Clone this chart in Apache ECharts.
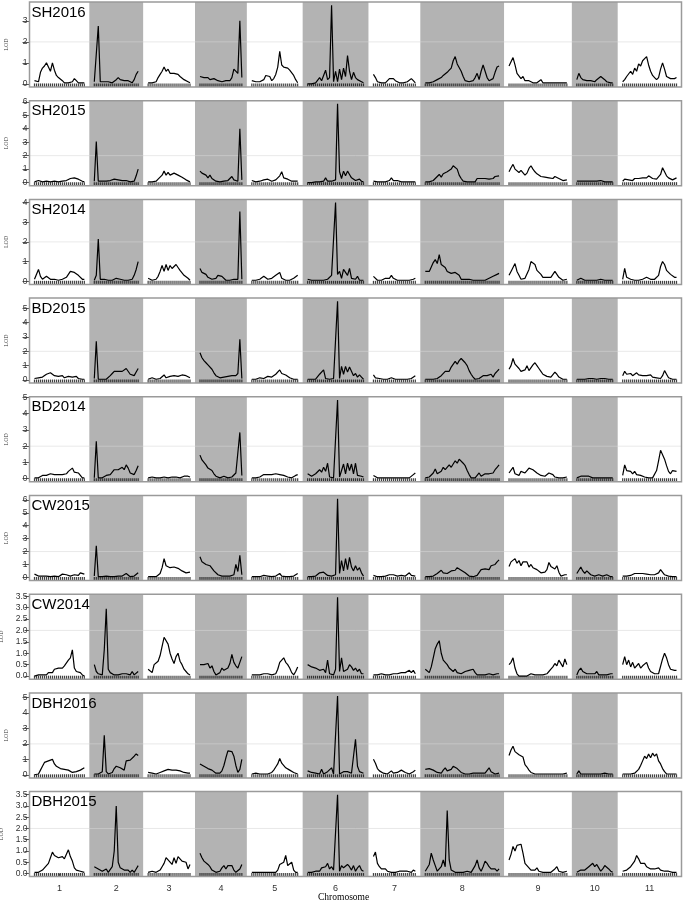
<!DOCTYPE html>
<html><head><meta charset="utf-8">
<script src="https://cdn.jsdelivr.net/npm/echarts@6/dist/echarts.min.js"></script>
<style>html,body{margin:0;padding:0;background:#fff}#c{width:685px;height:902px}</style>
</head><body><div id="c"></div><script>
// ---------- DATA ----------
const chromosomes = ['1','2','3','4','5','6','7','8','9','10','11'];
const chrLengths = [50,44,42,42,46,56,42,74,58,36,54]; // cM
const chrGap = 10;
const traits = ['SH2016','SH2015','SH2014','BD2015','BD2014','CW2015','CW2014','DBH2016','DBH2015'];
const threshold = 2;

const ticksSH2016 = ['0','1','2','3'];
const ticksSH2015 = ['0','1','2','3','4','5','6'];
const ticksSH2014 = ['0','1','2','3','4'];
const ticksBD2015 = ['0','1','2','3','4','5'];
const ticksBD2014 = ['0','1','2','3','4','5'];
const ticksCW2015 = ['0','1','2','3','4','5','6'];
const ticksCW2014 = ['0.0','0.5','1.0','1.5','2.0','2.5','3.0','3.5'];
const ticksDBH2016 = ['0','1','2','3','4','5'];
const ticksDBH2015 = ['0.0','0.5','1.0','1.5','2.0','2.5','3.0','3.5'];

const SH2016 = [
[0.15,0.1,0.1,0.55,0.75,0.85,1.0,0.8,0.6,1.0,0.65,0.4,0.3,0.25,0.15,0.05,0.1,0.05,0.05,0.1,0.25,0.15,0.05,0.05,0.05,0.05],
[0.1,0.1,2.75,0.1,0.05,0.1,0.05,0.1,0.05,0.05,0.1,0.2,0.3,0.2,0.25,0.15,0.2,0.15,0.1,0.05,0.2,0.45,0.6],
[0.05,0.05,0.05,0.05,0.1,0.3,0.45,0.6,0.8,0.6,0.7,0.5,0.45,0.5,0.45,0.45,0.35,0.3,0.2,0.15,0.1,0.05],
[0.35,0.3,0.3,0.25,0.3,0.2,0.2,0.25,0.2,0.15,0.1,0.1,0.1,0.15,0.2,0.15,0.3,0.7,0.7,0.5,3.0,0.3],
[0.15,0.1,0.1,0.05,0.1,0.05,0.2,0.4,0.45,0.35,0.15,0.25,0.45,0.8,1.55,0.9,0.8,0.85,0.75,0.65,0.6,0.4,0.2,0.05],
[0,0,0,0,0.05,0,0.3,0.15,0.4,0.65,0.2,0.3,3.75,0.1,0.6,0.1,0.7,0.2,0.75,0.35,1.35,0.6,0.2,0.55,0.3,0.2,0.15,0.1,0.05],
[0.45,0.3,0.1,0.05,0.05,0.1,0.05,0.1,0.25,0.2,0.25,0.15,0.1,0.05,0.05,0.05,0.1,0.1,0.15,0.25,0.15,0.05],
[0.05,0.05,0.05,0.05,0.1,0.1,0.2,0.25,0.3,0.4,0.45,0.55,0.65,0.75,1.1,1.3,0.95,0.9,0.6,0.35,0.15,0.1,0.1,0.1,0.15,0.3,0.5,0.2,0.6,0.9,0.6,0.3,0.15,0.1,0.25,0.55,0.8,0.85],
[0.85,1.05,1.25,0.9,0.5,0.45,0.25,0.35,0.15,0.1,0.15,0.15,0.05,0.05,0.05,0.05,0.2,0.05,0.05,0.05,0.05,0.05,0.1,0.05,0.05,0.05,0.05,0.05,0.05,0.05],
[0.2,0.5,0.3,0.2,0.15,0.15,0.15,0.15,0.15,0.1,0.2,0.25,0.35,0.3,0.2,0.1,0.05,0.05,0.05],
[0.1,0.2,0.35,0.3,0.6,0.45,0.75,0.6,0.95,0.85,1.1,1.2,1.3,0.9,0.6,0.4,0.3,0.2,0.3,0.7,1.0,0.7,0.35,0.3,0.25,0.3,0.25,0.3]
];
const SH2015 = [
[0.05,0.1,0.15,0.05,0.05,0.05,0.1,0.1,0.05,0.05,0.1,0.1,0.05,0.1,0.1,0.1,0.15,0.2,0.3,0.25,0.35,0.3,0.25,0.15,0.1,0.05],
[0.1,3.05,0.1,0.05,0.1,0.05,0.1,0.1,0.15,0.15,0.25,0.2,0.2,0.2,0.15,0.25,0.15,0.1,0.05,0.05,0.1,0.5,1.0],
[0.05,0.05,0.05,0.05,0.1,0.25,0.4,0.55,0.85,0.55,0.75,0.55,0.65,0.7,0.65,0.55,0.45,0.4,0.3,0.2,0.1,0.05],
[0.85,0.7,0.6,0.55,0.35,0.55,0.3,0.2,0.1,0.1,0.05,0.1,0.1,0.15,0.15,0.2,0.45,0.2,0.15,0.1,4.0,0.2],
[0.15,0.1,0.05,0.1,0.1,0.15,0.2,0.15,0.25,0.2,0.1,0.1,0.2,0.3,0.5,0.8,0.35,0.4,0.25,0.15,0.1,0.1,0.1,0.1],
[0,0,0,0.05,0.05,0.05,0.05,0.15,0.1,0.35,0.1,0.1,0.1,0.05,0.2,5.85,0.8,0.3,0.85,0.5,0.85,0.6,0.35,0.3,0.15,0.2,0.25,0.1,0.05],
[0.1,0.15,0.05,0.05,0.05,0.05,0.05,0.1,0.15,0.35,0.15,0.1,0.15,0.1,0.05,0.05,0.05,0.05,0.05,0.05,0.05,0.05],
[0.05,0.05,0.05,0.1,0.15,0.3,0.45,0.6,0.4,0.65,0.55,0.8,0.7,1.0,1.25,1.3,1.0,0.55,0.3,0.1,0.05,0.05,0.05,0.05,0.05,0.05,0.3,0.2,0.3,0.25,0.3,0.35,0.25,0.35,0.3,0.45,0.5,0.5],
[0.8,1.1,1.35,1.0,1.1,0.75,0.9,0.95,0.55,0.7,1.05,1.25,1.0,0.8,0.65,0.55,0.45,0.35,0.4,0.5,0.35,0.25,0.3,0.45,0.45,0.3,0.2,0.15,0.2,0.2],
[0.1,0.05,0.1,0.05,0.1,0.05,0.1,0.05,0.1,0.1,0.1,0.15,0.15,0.1,0.05,0.05,0.05,0.05,0.05],
[0.1,0.25,0.15,0.2,0.2,0.15,0.3,0.25,0.3,0.3,0.35,0.4,0.35,0.5,0.4,0.3,0.25,0.25,0.3,0.6,1.1,0.8,0.5,0.35,0.35,0.2,0.25,0.35]
];
const SH2014 = [
[0.1,0.15,0.6,0.25,0.1,0.15,0.25,0.2,0.1,0.15,0.1,0.05,0.05,0.05,0.1,0.1,0.2,0.35,0.5,0.55,0.45,0.4,0.3,0.25,0.1,0.1],
[0.05,0.3,2.15,0.1,0.05,0.1,0.05,0.05,0.1,0.05,0.1,0.15,0.1,0.1,0.05,0.05,0.05,0.05,0.05,0.1,0.3,0.6,1.0],
[0.15,0.1,0.05,0.05,0.1,0.25,0.5,0.8,0.5,0.85,0.55,0.8,0.65,0.75,0.85,0.7,0.55,0.45,0.3,0.2,0.15,0.05],
[0.65,0.45,0.45,0.35,0.2,0.15,0.1,0.1,0.15,0.3,0.3,0.25,0.15,0.05,0.05,0.05,0.15,0.1,0.05,0.1,3.55,0.1],
[0.05,0.05,0.05,0.05,0.1,0.2,0.25,0.2,0.1,0.1,0.15,0.2,0.3,0.25,0.45,0.15,0.1,0.05,0.05,0.05,0.1,0.15,0.2,0.3],
[0.1,0.05,0.05,0.05,0.05,0.05,0.05,0.1,0.05,0.05,0.1,0.05,0.3,0.4,4.0,0.35,0.5,0.15,0.6,0.65,0.3,0.65,0.15,0.1,0.1,0.25,0.05,0.05,0.05],
[0.25,0.15,0.05,0.05,0.05,0.1,0.15,0.1,0.15,0.3,0.15,0.05,0.05,0.05,0.05,0.05,0.05,0.05,0.05,0.05,0.1,0.15],
[0.5,0.45,0.5,0.6,0.95,1.1,0.9,1.35,0.85,0.75,0.7,0.5,0.55,0.4,0.45,0.45,0.35,0.3,0.1,0.05,0.1,0.05,0.1,0.1,0.05,0.05,0.05,0.05,0.05,0.05,0.05,0.1,0.15,0.2,0.25,0.3,0.35,0.4],
[0.3,0.5,0.7,0.9,0.5,0.3,0.1,0.2,0.15,0.1,0.6,1.0,0.95,0.85,0.55,0.55,0.35,0.2,0.15,0.2,0.3,0.2,0.3,0.5,0.4,0.2,0.1,0.05,0.05,0.1],
[0.05,0.1,0.15,0.05,0.05,0.05,0.05,0.05,0.05,0.05,0.05,0.05,0.1,0.05,0.05,0.05,0.05,0.05,0.05],
[0.1,0.65,0.2,0.25,0.1,0.05,0.05,0.05,0.05,0.05,0.1,0.1,0.2,0.25,0.1,0.1,0.1,0.1,0.3,0.75,1.0,0.85,0.55,0.5,0.35,0.3,0.2,0.2]
];
const BD2015 = [
[0.1,0.05,0.15,0.25,0.2,0.3,0.4,0.35,0.5,0.4,0.3,0.3,0.25,0.25,0.3,0.15,0.1,0.25,0.35,0.2,0.3,0.25,0.1,0.05,0.05,0.05],
[0.1,2.7,0.05,0.05,0.05,0.1,0.05,0.15,0.3,0.45,0.6,0.55,0.6,0.55,0.6,0.5,0.8,0.75,0.4,0.35,0.3,0.55,0.8],
[0.05,0.1,0.15,0.05,0.05,0.1,0.1,0.2,0.35,0.15,0.2,0.25,0.2,0.3,0.35,0.25,0.25,0.35,0.4,0.3,0.2,0.15],
[1.9,1.55,1.35,1.2,1.05,1.0,0.75,0.5,0.3,0.2,0.15,0.1,0.2,0.15,0.25,0.2,0.3,0.25,0.3,0.45,2.85,0.1],
[0.05,0.05,0.05,0.1,0.15,0.1,0.1,0.2,0.25,0.2,0.2,0.3,0.4,0.5,0.7,0.45,0.4,0.35,0.25,0.15,0.1,0.05,0.05,0.05],
[0.05,0.05,0.05,0.05,0.05,0.15,0.4,0.35,0.7,0.1,0.05,0.05,0.1,0.1,0.1,5.5,0.1,0.95,0.4,0.95,0.55,0.9,0.85,0.3,0.45,0.2,0.35,0.2,0.05],
[0.35,0.15,0.1,0.1,0.05,0.05,0.1,0.05,0.05,0.15,0.05,0.05,0.05,0.05,0.05,0.05,0.05,0.05,0.05,0.1,0.2,0.3],
[0.05,0.05,0.05,0.05,0.05,0.1,0.1,0.2,0.3,0.4,0.6,0.55,0.6,0.9,1.0,1.3,1.1,1.35,1.5,1.4,1.2,1.0,0.65,0.4,0.2,0.05,0.05,0.1,0.05,0.3,0.4,0.3,0.35,0.4,0.2,0.45,0.6,0.75],
[0.75,1.0,1.5,1.1,1.2,0.8,0.6,0.55,0.7,1.0,0.65,0.6,1.05,1.2,1.0,0.8,0.6,0.4,0.3,0.25,0.2,0.2,0.3,0.55,0.4,0.2,0.1,0.05,0.05,0.05],
[0.05,0.1,0.05,0.1,0.05,0.05,0.1,0.05,0.1,0.05,0.05,0.1,0.1,0.15,0.1,0.05,0.05,0.05,0.05],
[0.3,0.6,0.4,0.35,0.45,0.3,0.4,0.5,0.35,0.3,0.3,0.4,0.3,0.3,0.35,0.2,0.15,0.15,0.1,0.1,0.3,0.65,0.4,0.15,0.05,0.05,0.05,0.05]
];
const BD2014 = [
[0.05,0.05,0.05,0.1,0.2,0.25,0.2,0.25,0.3,0.25,0.25,0.2,0.25,0.3,0.25,0.2,0.3,0.45,0.55,0.65,0.4,0.45,0.35,0.2,0.05,0.05],
[0.05,2.3,0.05,0.05,0.05,0.15,0.2,0.1,0.25,0.4,0.55,0.65,0.55,0.6,0.7,0.55,0.85,0.65,0.35,0.3,0.25,0.5,0.8],
[0.05,0.05,0.1,0.15,0.05,0.05,0.05,0.05,0.1,0.05,0.05,0.05,0.1,0.15,0.1,0.05,0.05,0.1,0.15,0.2,0.15,0.1],
[1.45,1.15,1.15,0.85,0.65,0.7,0.5,0.3,0.15,0.05,0.05,0.1,0.15,0.1,0.05,0.15,0.1,0.2,0.35,0.3,2.85,0.2],
[0.05,0.05,0.05,0.05,0.1,0.2,0.25,0.3,0.25,0.2,0.25,0.25,0.3,0.35,0.25,0.25,0.2,0.15,0.1,0.1,0.05,0.1,0.2,0.25],
[0.3,0.2,0.15,0.1,0.3,0.3,0.55,0.4,0.7,0.45,0.95,0.1,0.05,0.05,0.1,4.85,0.1,0.5,0.9,0.3,0.95,0.5,0.9,0.3,0.95,0.2,0.1,0.15,0.1],
[0.2,0.1,0.05,0.05,0.05,0.05,0.05,0.1,0.05,0.05,0.05,0.05,0.05,0.05,0.05,0.05,0.05,0.05,0.05,0.1,0.25,0.35],
[0.05,0.05,0.1,0.2,0.35,0.6,0.3,0.35,0.45,0.7,0.55,0.65,0.85,0.7,0.9,1.1,0.95,1.2,1.1,0.95,0.8,0.5,0.25,0.05,0.05,0.05,0.05,0.35,0.15,0.1,0.3,0.4,0.3,0.4,0.35,0.55,0.7,0.85],
[0.35,0.3,0.7,0.3,0.35,0.2,0.45,0.35,0.35,0.5,0.65,0.6,0.55,0.45,0.35,0.3,0.2,0.1,0.15,0.25,0.35,0.45,0.25,0.1,0.05,0.05,0.05,0.05,0.1,0.1],
[0.05,0.1,0.15,0.2,0.15,0.1,0.15,0.1,0.05,0.1,0.05,0.05,0.05,0.05,0.05,0.05,0.05,0.05,0.05],
[0.2,0.85,0.5,0.4,0.45,0.3,0.45,0.25,0.25,0.2,0.15,0.1,0.1,0.05,0.05,0.05,0.1,0.5,1.1,1.75,1.7,1.2,0.8,0.45,0.3,0.5,0.4,0.45]
];
const CW2015 = [
[0.25,0.15,0.1,0.1,0.1,0.05,0.1,0.05,0.05,0.05,0.1,0.05,0.05,0.05,0.25,0.4,0.2,0.15,0.1,0.15,0.2,0.1,0.15,0.35,0.3,0.25],
[0.1,2.45,0.05,0.05,0.05,0.05,0.1,0.05,0.05,0.1,0.05,0.1,0.1,0.15,0.1,0.2,0.3,0.15,0.05,0.05,0.1,0.2,0.35],
[0.05,0.05,0.05,0.05,0.05,0.05,0.3,0.75,1.45,0.9,1.0,0.75,0.85,0.8,0.9,0.7,0.6,0.5,0.45,0.35,0.3,0.4],
[1.6,1.2,1.1,1.0,0.95,0.9,0.95,0.5,0.35,0.2,0.1,0.1,0.15,0.1,0.1,0.1,0.05,0.2,1.0,0.45,1.7,0.2],
[0.05,0.05,0.05,0.05,0.05,0.1,0.15,0.15,0.1,0.05,0.05,0.05,0.1,0.15,0.3,0.1,0.05,0.05,0.05,0.05,0.05,0.1,0.2,0.3],
[0.05,0.05,0.05,0.1,0.1,0.2,0.35,0.2,0.4,0.25,0.15,0.15,0.1,0.15,0.2,6.1,0.3,1.3,0.5,1.45,0.6,1.55,0.8,0.5,0.9,0.55,0.75,0.35,0.1],
[0.15,0.1,0.05,0.05,0.05,0.05,0.1,0.1,0.2,0.3,0.2,0.15,0.1,0.15,0.15,0.25,0.1,0.15,0.35,0.15,0.1,0.1],
[0.05,0.05,0.05,0.05,0.1,0.15,0.3,0.35,0.55,0.35,0.4,0.3,0.45,0.5,0.6,0.55,0.75,0.65,0.55,0.4,0.35,0.2,0.1,0.05,0.05,0.05,0.15,0.3,0.6,0.45,0.65,0.7,0.6,0.9,0.75,1.0,1.2,1.35],
[0.85,1.2,1.1,1.45,1.1,1.3,0.9,1.2,1.05,1.2,0.8,1.0,0.75,0.85,0.6,0.5,0.35,0.4,0.4,0.6,1.15,0.85,0.95,0.65,0.9,0.4,0.1,0.15,0.2,0.2],
[0.3,0.55,0.8,0.5,0.3,0.5,0.35,0.2,0.15,0.1,0.15,0.2,0.15,0.1,0.15,0.2,0.05,0.05,0.05],
[0.1,0.2,0.1,0.25,0.15,0.25,0.3,0.25,0.3,0.2,0.3,0.2,0.25,0.2,0.2,0.15,0.2,0.15,0.35,0.6,0.5,0.2,0.1,0.1,0.05,0.05,0.05,0.05]
];
const CW2014 = [
[0.0,0.05,0.05,0.1,0.05,0.05,0.05,0.15,0.2,0.15,0.3,0.35,0.35,0.4,0.35,0.45,0.45,0.7,0.8,1.15,0.35,0.2,0.25,0.15,0.05,0.0],
[0.5,0.2,0.1,0.05,0.05,1.15,2.95,0.3,0.15,0.1,0.05,0.1,0.05,0.05,0.1,0.15,0.1,0.05,0.05,0.2,0.05,0.1,0.2],
[0.3,0.25,0.15,0.5,0.55,0.65,0.9,1.3,1.7,1.75,1.4,1.0,0.75,0.55,0.85,1.0,0.65,0.5,0.3,0.2,0.1,0.05],
[0.5,0.55,0.5,0.45,0.55,0.35,0.45,0.2,0.05,0.05,0.15,0.35,0.25,0.2,0.35,0.55,0.95,0.6,0.45,0.35,0.6,0.85],
[0.05,0.05,0.05,0.05,0.05,0.05,0.1,0.15,0.1,0.05,0.05,0.05,0.1,0.3,0.6,0.7,0.8,0.6,0.5,0.35,0.15,0.05,0.2,0.4],
[0.5,0.45,0.4,0.35,0.35,0.3,0.25,0.2,0.3,0.15,0.7,0.1,0.1,0.05,0.3,3.45,0.2,0.8,0.2,0.15,0.3,0.5,0.4,0.25,0.35,0.2,0.3,0.1,0.1],
[0.05,0.05,0.05,0.1,0.1,0.05,0.05,0.1,0.05,0.05,0.1,0.1,0.1,0.15,0.15,0.2,0.15,0.2,0.25,0.15,0.25,0.1],
[0.3,0.25,0.15,0.4,0.8,1.2,1.4,1.55,1.0,0.7,0.7,0.5,0.35,0.3,0.2,0.3,0.15,0.15,0.1,0.15,0.2,0.15,0.25,0.25,0.3,0.15,0.05,0.05,0.05,0.05,0.05,0.05,0.1,0.05,0.05,0.1,0.1,0.1],
[0.5,0.6,0.8,0.35,0.1,0,0,0,0,0,0.05,0.1,0.1,0.05,0.05,0.05,0.05,0.05,0.1,0.1,0.2,0.3,0.4,0.55,0.45,0.7,0.75,0.4,0.75,0.5],
[0.05,0.25,0.35,0.2,0.2,0.1,0.15,0.1,0.05,0.1,0.2,0.05,0.05,0.05,0.05,0.05,0.05,0.1,0.1],
[0.5,0.85,0.5,0.7,0.4,0.6,0.35,0.4,0.55,0.35,0.45,0.5,0.6,0.35,0.2,0.15,0.1,0.15,0.1,0.15,0.75,1.0,0.8,0.5,0.3,0.25,0.25,0.25]
];
const DBH2016 = [
[0,0,0.05,0.3,0.55,0.8,0.75,0.9,0.85,1.0,0.7,0.55,0.5,0.4,0.45,0.35,0.4,0.3,0.2,0.15,0.2,0.2,0.25,0.3,0.35,0.45],
[0.05,0.05,0.05,0.1,0.2,2.55,0.2,0.05,0.1,0.15,0.4,0.55,0.5,0.45,0.35,0.3,0.9,0.95,0.95,1.0,1.2,1.35,1.25],
[0.15,0.15,0.1,0.05,0.05,0.1,0.15,0.15,0.25,0.3,0.35,0.25,0.3,0.35,0.3,0.25,0.25,0.2,0.15,0.15,0.1,0.1],
[0.7,0.65,0.55,0.5,0.4,0.35,0.3,0.2,0.1,0.05,0.1,0.25,0.6,1.1,1.55,1.45,1.5,1.2,0.6,0.15,0.35,1.0],
[0.05,0.05,0.1,0.05,0.05,0.1,0.05,0.05,0.05,0.05,0.15,0.3,0.5,0.7,1.05,0.75,0.8,0.45,0.45,0.3,0.3,0.15,0.1,0.05],
[0.25,0.2,0.15,0.15,0.1,0.1,0.05,0.35,0.05,0.15,0.2,0.1,0.45,0.05,0.1,5.1,0.05,0.1,0.2,0.1,0.2,0.15,0.1,0.2,2.3,0.55,0.2,0.3,0.1],
[1.0,0.75,0.4,0.25,0.15,0.1,0.1,0.05,0.1,0.25,0.1,0.2,0.15,0.1,0.3,0.3,0.15,0.05,0.05,0.1,0.2,0.3],
[0.35,0.35,0.4,0.5,0.3,0.2,0.15,0.05,0.1,0.3,0.45,0.25,0.2,0.35,0.55,0.6,0.4,0.3,0.15,0.1,0.05,0.05,0.05,0.05,0.1,0.05,0.1,0.2,0.1,0.05,0.1,0.2,0.45,0.2,0.1,0.05,0.05,0.1],
[1.25,1.6,1.85,1.5,1.6,1.3,1.2,1.15,0.65,0.5,0.3,0.15,0.1,0.05,0.05,0.05,0.05,0.05,0.1,0.05,0.05,0.05,0.05,0.05,0.05,0.05,0.05,0.05,0.05,0.1],
[0.05,0.25,0.05,0.05,0.05,0.05,0.05,0.05,0.05,0.05,0.05,0.05,0.05,0.05,0.1,0.05,0.05,0.05,0.05],
[0.05,0.05,0.05,0.05,0.05,0.05,0.1,0.2,0.35,0.6,0.9,1.2,1.05,1.35,1.1,1.4,1.2,1.35,0.9,0.7,0.4,0.2,0.05,0.05,0.05,0.05,0.05,0.05]
];
const DBH2015 = [
[0.05,0.05,0.05,0.1,0.15,0.25,0.3,0.45,0.7,0.95,0.8,0.75,0.7,0.7,0.75,0.65,0.6,1.05,0.75,0.55,0.25,0.15,0.15,0.1,0.05,0.05],
[0.3,0.3,0.2,0.15,0.1,0.1,0.2,0.05,0.1,0.3,1.0,3.0,0.5,0.25,0.3,0.15,0.1,0.15,0.05,0.15,0.05,0.2,0.35],
[0.05,0.1,0.1,0.15,0.05,0.1,0.15,0.3,0.45,0.7,0.6,0.5,0.4,0.7,0.45,0.75,0.65,0.55,0.5,0.5,0.2,0.4],
[0.9,0.7,0.55,0.5,0.4,0.3,0.15,0.1,0.05,0.05,0.1,0.25,0.35,0.2,0.35,0.3,0.35,0.15,0.05,0.05,0.2,0.4],
[0.05,0.05,0.05,0.05,0.05,0.05,0.05,0.05,0.05,0.05,0.05,0.05,0.05,0.15,0.4,0.35,0.5,0.8,0.35,0.4,0.5,0.15,0.05,0.05],
[0.05,0.05,0.05,0.05,0.1,0.1,0.1,0.25,0.2,0.3,0.45,0.2,0.3,0.15,0.1,3.5,0.1,0.35,0.25,0.2,0.4,0.3,0.15,0.35,0.1,0.25,0.35,0.15,0.1],
[0.75,0.95,0.45,0.3,0.2,0.15,0.2,0.1,0.1,0.05,0.05,0.05,0.05,0.1,0.05,0.1,0.05,0.1,0.1,0.05,0.15,0.1],
[0.1,0.15,0.4,0.9,0.6,0.35,0.1,0.05,0.3,0.6,0.3,2.8,0.6,0.15,0.15,0.05,0.05,0.05,0.05,0.05,0.05,0.1,0.05,0.05,0.1,0.35,0.6,0.25,0.1,0.3,0.55,0.45,0.3,0.2,0.15,0.2,0.1,0.2],
[0.6,0.85,1.2,1.0,1.25,1.2,1.3,0.9,0.45,0.35,0.3,0.15,0.1,0.15,0.25,0.1,0.05,0.05,0.1,0.05,0.05,0.05,0.05,0.2,0.3,0.1,0.05,0.05,0.05,0.1],
[0.05,0.05,0.15,0.1,0.15,0.2,0.3,0.25,0.45,0.3,0.4,0.25,0.1,0.2,0.35,0.4,0.2,0.1,0.05],
[0.1,0.15,0.15,0.2,0.3,0.25,0.55,0.8,0.65,0.45,0.4,0.45,0.3,0.3,0.2,0.25,0.2,0.2,0.25,0.15,0.1,0.1,0.05,0.1,0.05,0.05,0.05,0.05]
];

const traitData = {SH2016,SH2015,SH2014,BD2015,BD2014,CW2015,CW2014,DBH2016,DBH2015};
const traitTicks = {SH2016:ticksSH2016,SH2015:ticksSH2015,SH2014:ticksSH2014,BD2015:ticksBD2015,BD2014:ticksBD2014,CW2015:ticksCW2015,CW2014:ticksCW2014,DBH2016:ticksDBH2016,DBH2015:ticksDBH2015};

// ---------- LAYOUT ----------
const plotLeft = 29.5, plotWidth = 652, panelH = 85, panelStep = 98.7, firstTop = 2;
const chrStarts = [];
let acc = 0;
chrLengths.forEach(L => { chrStarts.push(acc); acc += L + chrGap; });
const totalLen = acc;
const chrCenters = chrStarts.map((s, k) => s + (chrLengths[k] + chrGap) / 2);
function markerPos(k, n) {
  const s = chrStarts[k] + chrGap / 2, L = chrLengths[k];
  const out = [];
  for (let i = 0; i < n; i++) out.push(s + i * L / (n - 1));
  return out;
}
function nearestLabel(vals, labs, v) {
  let b = 0, d = 1e9;
  vals.forEach((c, k) => { if (Math.abs(c - v) < d) { d = Math.abs(c - v); b = k; } });
  return labs[b];
}

const grids = [], xAxes = [], yAxes = [], series = [], graphics = [];
traits.forEach((t, p) => {
  const data = traitData[t];
  let M = 0;
  data.forEach(a => a.forEach(v => { if (v > M) M = v; }));
  const ymin = -0.04 * M, ymax = 1.04 * M;
  const top = firstTop + p * panelStep;
  const labels = traitTicks[t];
  const tickVals = labels.map(Number);
  const isDec = labels[0].indexOf('.') >= 0;
  const last = p === traits.length - 1;
  grids.push({left: plotLeft, width: plotWidth, top: top, height: panelH, containLabel: false, outerBoundsMode: 'none'});
  xAxes.push({
    gridIndex: p, type: 'value', min: 0, max: totalLen,
    splitLine: {show: false}, axisLine: {show: false},
    axisTick: last ? {show: true, customValues: chrCenters, length: 3, lineStyle: {color: '#555', width: 1}} : {show: false},
    axisLabel: last ? {show: true, customValues: chrCenters, margin: 7, fontSize: 9, color: '#333', fontFamily: 'Liberation Sans, Arial, sans-serif',
      formatter: v => nearestLabel(chrCenters, chromosomes, v)} : {show: false}
  });
  yAxes.push({
    gridIndex: p, type: 'value', min: ymin, max: ymax, position: 'left',
    splitLine: {show: false}, axisLine: {show: false, onZero: false},
    axisTick: {show: true, inside: false, customValues: tickVals, length: isDec ? 5 : 7, lineStyle: {color: '#555', width: 1}},
    axisLabel: {show: true, inside: false, align: 'right', customValues: tickVals, margin: 2, fontSize: 8.5, color: '#333', fontFamily: 'Liberation Sans, Arial, sans-serif',
      formatter: v => nearestLabel(tickVals, labels, v)},
    name: 'LOD', nameLocation: 'middle', nameGap: 20.5, nameRotate: 90,
    nameTextStyle: {fontFamily: 'Liberation Serif, Times New Roman, serif', fontSize: 6, color: '#333'}
  });
  const shade = [];
  chrStarts.forEach((s, k) => { if (k % 2 === 1) shade.push([s, s + chrLengths[k] + chrGap]); });
  series.push({
    type: 'custom', xAxisIndex: p, yAxisIndex: p, z: 1, silent: true, clip: true,
    data: shade,
    renderItem: (params, api) => {
      const a = api.coord([api.value(0), ymax]);
      const b = api.coord([api.value(1), ymin]);
      return {type: 'rect', shape: {x: a[0], y: a[1], width: b[0] - a[0], height: b[1] - a[1]}, style: {fill: '#b3b3b3'}};
    }
  });
  series.push({
    type: 'line', xAxisIndex: p, yAxisIndex: p, z: 2, silent: true, symbol: 'none',
    data: [[0, threshold], [totalLen, threshold]],
    lineStyle: {color: 'rgba(215,215,215,0.55)', width: 1}
  });
  const rug = [];
  data.forEach((vals, k) => {
    const pos = markerPos(k, vals.length);
    pos.forEach(x => rug.push([x, ymin]));
    series.push({
      type: 'line', xAxisIndex: p, yAxisIndex: p, z: 3, silent: true, symbol: 'none',
      data: vals.map((v, i) => [pos[i], v]),
      lineStyle: {color: '#000', width: 1.2}
    });
  });
  series.push({
    type: 'scatter', xAxisIndex: p, yAxisIndex: p, z: 4, silent: true,
    symbol: 'rect', symbolSize: [1.2, 3.5], symbolOffset: [0, -1.8],
    itemStyle: {color: '#111'}, data: rug
  });
  graphics.push({type: 'rect', z: 100, silent: true,
    shape: {x: plotLeft, y: top, width: plotWidth, height: panelH},
    style: {fill: 'none', stroke: '#9a9a9a', lineWidth: 1.5}});
  graphics.push({type: 'text', z: 101, left: plotLeft + 2, top: top + 3, silent: true,
    style: {text: t, font: '15px "Liberation Sans", Arial, sans-serif', fill: '#000'}});
});
graphics.push({type: 'text', z: 101, left: 318, top: 892, silent: true,
  style: {text: 'Chromosome', font: '9.5px "Liberation Serif", "Times New Roman", serif', fill: '#000'}});

const chart = echarts.init(document.getElementById('c'), null, {renderer: 'canvas'});
chart.setOption({
  animation: false, backgroundColor: '#fff',
  grid: grids, xAxis: xAxes, yAxis: yAxes, series: series, graphic: graphics
});
</script></body></html>
